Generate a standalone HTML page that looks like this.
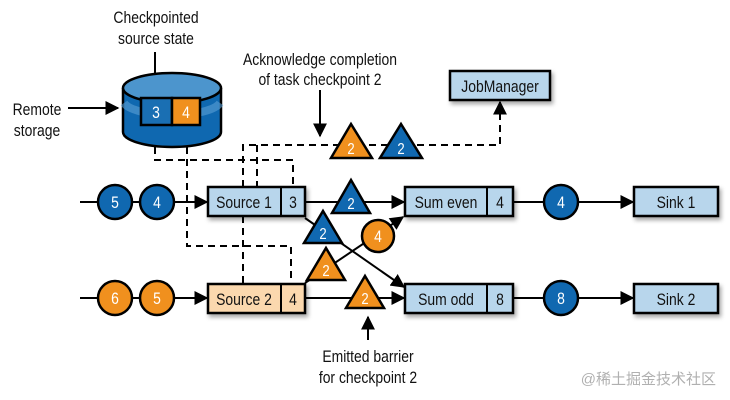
<!DOCTYPE html>
<html><head><meta charset="utf-8"><style>
html,body{margin:0;padding:0;background:#fff;}
svg{display:block;}
text{font-family:"Liberation Sans Narrow","Liberation Sans",sans-serif;transform-box:fill-box;transform-origin:center;transform:scaleX(0.82);}
text.wm{transform:none;}
</style></head><body>
<svg width="730" height="400" viewBox="0 0 730 400" xmlns="http://www.w3.org/2000/svg">
<defs>
<marker id="b" viewBox="0 0 10 10" refX="9" refY="5" markerWidth="14" markerHeight="14" orient="auto" markerUnits="userSpaceOnUse"><path d="M0,0L10,5L0,10z" fill="#000"/></marker>
<filter id="s" x="-10%" y="-10%" width="130%" height="150%"><feDropShadow dx="2" dy="3" stdDeviation="2" flood-color="#000" flood-opacity="0.35"/></filter>
</defs>
<rect width="730" height="400" fill="#fff"/>

<g fill="none" stroke="#000" stroke-width="2" stroke-dasharray="7,5">
<path d="M155,135 V160 H293 V186"/>
<path d="M187,135 V246 H291 V283"/>
<path d="M243,283 V145 H500 V108"/>
<path d="M257,145 V186"/>
</g>

<g stroke="#000" stroke-width="2" fill="none">
<line x1="80" y1="202" x2="207" y2="202" marker-end="url(#b)"/>
<line x1="80" y1="298" x2="207" y2="298" marker-end="url(#b)"/>
<line x1="305" y1="202" x2="404" y2="202" marker-end="url(#b)"/>
<line x1="305" y1="298" x2="404" y2="298" marker-end="url(#b)"/>
<line x1="305" y1="218" x2="404" y2="287" marker-end="url(#b)"/>
<line x1="305" y1="283" x2="403" y2="217" marker-end="url(#b)"/>
<line x1="513" y1="202" x2="633" y2="202" marker-end="url(#b)"/>
<line x1="513" y1="298" x2="633" y2="298" marker-end="url(#b)"/>
<line x1="68" y1="108" x2="118" y2="108" marker-end="url(#b)"/>
<line x1="155" y1="52" x2="155" y2="97" marker-end="url(#b)"/>
<line x1="155" y1="140" x2="155" y2="127" marker-end="url(#b)"/>
<line x1="187" y1="140" x2="187" y2="127" marker-end="url(#b)"/>
<line x1="320" y1="90" x2="320" y2="136" marker-end="url(#b)"/>
<line x1="368" y1="340" x2="368" y2="317" marker-end="url(#b)"/>
<line x1="500" y1="112" x2="500" y2="102" marker-end="url(#b)"/>
</g>

<g stroke="#000" stroke-width="2.5">
<path d="M123,88 V132 A49,15 0 0 0 221,132 V88" fill="#0f68b0"/>
<ellipse cx="172" cy="88" rx="49" ry="15" fill="#4c95cd"/>
</g>
<path d="M124,103 A49,15 0 0 0 220,103" fill="none" stroke="#5aa0d6" stroke-width="8" opacity="0.6"/>
<rect x="141" y="98" width="31" height="27" fill="#1a6fb3" stroke="#000" stroke-width="2.5"/>
<rect x="172" y="98" width="28" height="27" fill="#f0901e" stroke="#000" stroke-width="2.5"/>
<text x="156" y="118" fill="#fff" font-size="17" text-anchor="middle">3</text>
<text x="186" y="118" fill="#fff" font-size="17" text-anchor="middle">4</text>

<g stroke="#000" stroke-width="2.5" filter="url(#s)">
<rect x="208" y="187" width="97" height="29" fill="#b8d6ec"/>
<rect x="208" y="284" width="97" height="29" fill="#fbd8ae"/>
<rect x="405" y="187" width="108" height="29" fill="#b8d6ec"/>
<rect x="405" y="284" width="108" height="29" fill="#b8d6ec"/>
<rect x="634" y="187" width="84" height="29" fill="#b8d6ec"/>
<rect x="634" y="284" width="84" height="29" fill="#b8d6ec"/>
<rect x="450" y="71" width="100" height="29" fill="#b8d6ec"/>
</g>
<g stroke="#000" stroke-width="2">
<line x1="281" y1="187" x2="281" y2="216"/>
<line x1="281" y1="284" x2="281" y2="313"/>
<line x1="487" y1="187" x2="487" y2="216"/>
<line x1="487" y1="284" x2="487" y2="313"/>
</g>
<g font-size="17" fill="#111" text-anchor="middle">
<text x="244" y="208">Source 1</text><text x="293" y="208">3</text>
<text x="244" y="305">Source 2</text><text x="293" y="305">4</text>
<text x="446" y="208">Sum even</text><text x="500" y="208">4</text>
<text x="446" y="305">Sum odd</text><text x="500" y="305">8</text>
<text x="676" y="208">Sink 1</text>
<text x="676" y="305">Sink 2</text>
<text x="500" y="92">JobManager</text>
</g>

<g stroke="#000" stroke-width="2.5">
<circle cx="115" cy="202" r="17" fill="#1068b0"/>
<circle cx="157" cy="202" r="17" fill="#1068b0"/>
<circle cx="115" cy="298" r="17" fill="#f0901e"/>
<circle cx="157" cy="298" r="17" fill="#f0901e"/>
<circle cx="561" cy="202" r="17" fill="#1068b0"/>
<circle cx="561" cy="298" r="17" fill="#1068b0"/>
<circle cx="378" cy="236" r="16" fill="#f0901e"/>
</g>
<g fill="#fff" font-size="17" text-anchor="middle">
<text x="115" y="208">5</text><text x="157" y="208">4</text>
<text x="115" y="304">6</text><text x="157" y="304">5</text>
<text x="561" y="208">4</text><text x="561" y="304">8</text>
<text x="378" y="242">4</text>
</g>

<g stroke="#000" stroke-width="2.5">
<path d="M351,124 L372,158 L331,158 Z" fill="#f0901e"/>
<path d="M401,124 L422,158 L380,158 Z" fill="#1068b0"/>
<path d="M351,180 L370,213 L332,213 Z" fill="#1068b0"/>
<path d="M323,211 L342,243 L304,243 Z" fill="#1068b0"/>
<path d="M326,248 L345,280 L307,280 Z" fill="#f0901e"/>
<path d="M365,276 L384,308 L346,308 Z" fill="#f0901e"/>
</g>
<g fill="#fff" font-size="16" text-anchor="middle">
<text x="351" y="154">2</text><text x="401" y="154">2</text>
<text x="351" y="209">2</text><text x="323" y="239">2</text>
<text x="326" y="276">2</text><text x="365" y="304">2</text>
</g>

<g font-size="17" fill="#111" text-anchor="middle">
<text x="156" y="23">Checkpointed</text>
<text x="156" y="44">source state</text>
<text x="37" y="115">Remote</text>
<text x="37" y="136">storage</text>
<text x="320" y="65">Acknowledge completion</text>
<text x="320" y="85">of task checkpoint 2</text>
<text x="368" y="362">Emitted barrier</text>
<text x="368" y="383">for checkpoint 2</text>
</g>
<text class="wm" x="716" y="384" font-size="15" fill="#b0b0b0" text-anchor="end" style="font-family:'Liberation Sans','Noto Sans CJK SC',sans-serif">@稀土掘金技术社区</text>
</svg>
</body></html>
